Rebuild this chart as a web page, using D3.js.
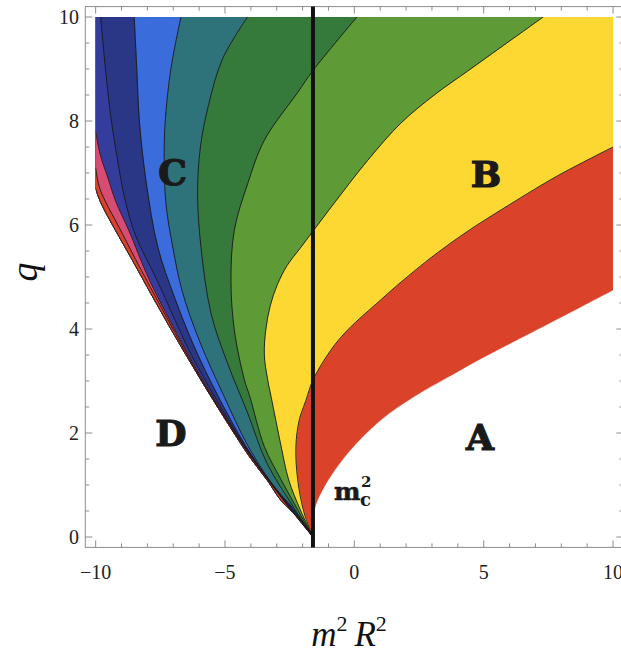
<!DOCTYPE html>
<html>
<head>
<meta charset="utf-8">
<script src="https://cdn.jsdelivr.net/npm/d3@7"></script>
<style>
  body { margin: 0; background: #fff; }
  svg { display: block; }
</style>
</head>
<body>
<svg id="chart" width="621" height="655"></svg>
<script>
// Contour boundaries, [m^2 R^2, q], from the vertex out to the plot edge.
// bound0 = edge of region A, bound10 = edge of region D.
const bound0 = [[-1.6,0],[-1.56,0.5],[-1.16,0.97],[-0.26,1.61],[1.02,2.25],[2.31,2.70],[3.60,3.07],[4.89,3.43],[7.50,4.10],[10,4.75]];
const bound1 = [[-1.6,0],[-1.94,0.46],[-2.19,1.10],[-2.26,1.74],[-2.13,2.25],[-1.87,2.63],[-1.6,3.02],[-0.90,3.6],[-0.26,3.98],[1.02,4.56],[1.80,4.90],[3.09,5.42],[4.38,5.88],[5.67,6.29],[7.80,6.93],[10,7.5]];
const bound2 = [[-1.6,0],[-2.07,0.5],[-2.54,1.1],[-2.83,1.74],[-3.22,2.7],[-3.35,3.02],[-3.48,3.5],[-3.42,4.0],[-3.25,4.45],[-2.98,4.85],[-2.6,5.22],[-2.1,5.55],[-1.6,5.88],[-0.78,6.42],[0.51,7.24],[1.80,7.96],[3.09,8.50],[4.38,8.96],[5.67,9.42],[7.30,10]];
const bound3 = [[-1.6,0],[-2.22,0.55],[-2.83,1.10],[-3.48,1.74],[-4.04,2.7],[-4.25,3.02],[-4.64,3.98],[-4.77,4.94],[-4.64,5.9],[-4.12,6.8],[-3.48,7.63],[-2.19,8.55],[-1.6,8.97],[0.10,10]];
const bound4 = [[-1.6,0],[-2.32,0.55],[-3.38,1.42],[-4.12,2.38],[-4.90,3.34],[-5.54,4.30],[-5.93,5.58],[-6.06,6.6],[-5.95,7.5],[-5.64,8.3],[-5.09,9.2],[-4.13,10]];
const bound5 = [[-1.6,0],[-2.37,0.55],[-3.11,0.98],[-4.12,1.76],[-5.03,2.70],[-5.97,3.75],[-6.65,4.72],[-7.02,5.58],[-7.28,6.4],[-7.35,7.2],[-7.31,8.0],[-7.08,9.04],[-6.70,10]];
const bound6 = [[-1.6,0],[-2.41,0.55],[-3.20,1.02],[-4.21,1.76],[-5.28,2.72],[-6.19,3.66],[-6.96,4.62],[-7.60,5.58],[-8.06,6.87],[-8.31,8.0],[-8.41,9.0],[-8.51,10]];
const bound7 = [[-1.6,0],[-2.45,0.55],[-3.22,1.04],[-4.25,1.76],[-5.77,3.02],[-6.40,3.6],[-7.63,4.94],[-8.46,5.8],[-8.87,6.5],[-9.17,7.3],[-9.42,8.1],[-9.62,9.0],[-9.81,10]];
const bound8 = [[-1.6,0],[-2.48,0.55],[-3.25,1.05],[-4.28,1.76],[-5.86,3.02],[-6.52,3.6],[-7.92,4.94],[-8.72,5.9],[-9.22,6.45],[-9.52,6.9],[-9.82,7.35],[-10,7.8]];
const bound9 = [[-1.6,0],[-2.50,0.55],[-3.28,1.06],[-4.30,1.76],[-5.90,3.02],[-6.57,3.6],[-8.03,4.94],[-8.52,5.4],[-9.12,5.98],[-9.62,6.45],[-9.87,6.75],[-10,7.1]];
const bound10 = [[-1.6,0],[-2.07,0.33],[-2.83,0.7],[-3.35,1.08],[-3.99,1.50],[-4.64,1.99],[-5.93,3.02],[-7.22,4.11],[-8.51,5.26],[-9.79,6.42],[-10,6.7]];

const boundaries = [bound0, bound1, bound2, bound3, bound4, bound5, bound6, bound7, bound8, bound9, bound10];
// one colour per band, band k lies between boundary k and k+1
const bandColors = ["#da432a", "#fdd732", "#5e9b36", "#367a3b", "#2f737a", "#3b6cdb", "#2a3686", "#343d9c", "#d64c74", "#da432a"];

const mcSquared = -1.6;
const xMajor = [-10, -5, 0, 5, 10];
const xTickLabels = ["\u221210", "\u22125", "0", "5", "10"];
const yMajor = [0, 2, 4, 6, 8, 10];
const yTickLabels = ["0", "2", "4", "6", "8", "10"];

const svg = d3.select("#chart");
const x = d3.scaleLinear().domain([-10.4, 10.4]).range([85.3, 623.4]);
const y = d3.scaleLinear().domain([-0.2, 10.2]).range([547.4, 6.6]);

svg.append("defs").append("clipPath").attr("id", "plotClip")
    .append("rect")
    .attr("x", x(-10)).attr("y", y(10))
    .attr("width", x(10) - x(-10)).attr("height", y(0) - y(10));

const line = d3.line()
    .x(d => x(d[0]))
    .y(d => y(d[1]))
    .curve(d3.curveCatmullRom.alpha(0.5));

// position of an end point along the plot edge, going right side up, top leftwards, left side down
function edgePos(p) {
    if (p[0] >= 9.99) return p[1];
    if (p[1] >= 9.99) return 10 + (10 - p[0]);
    return 30 + (10 - p[1]);
}
const corners = [[10, 10], [-10, 10]];

// painter's order: band k fills everything from boundary k round to boundary 10
const plot = svg.append("g").attr("clip-path", "url(#plotClip)");
const outer = bound10.slice().reverse();
const outerPath = "L" + line(outer).slice(1);

boundaries.slice(0, 10).forEach((b, k) => {
    const t0 = edgePos(b[b.length - 1]);
    let d = line(b);
    corners.forEach(c => {
        if (edgePos(c) > t0) d += "L" + x(c[0]) + "," + y(c[1]);
    });
    d += outerPath + "Z";
    plot.append("path")
        .attr("d", d)
        .attr("fill", bandColors[k])
        .attr("stroke", bandColors[k])
        .attr("stroke-width", 0.5);
});

// contour lines
plot.selectAll(".contour")
    .data(boundaries.slice(1))
    .enter().append("path")
    .attr("class", "contour")
    .attr("d", line)
    .attr("fill", "none")
    .attr("stroke", "#1a1a1a")
    .attr("stroke-width", 0.9);

// frame
const frame = svg.append("g");
frame.append("rect")
    .attr("x", x(-10.4)).attr("y", y(10.2))
    .attr("width", x(10.4) - x(-10.4)).attr("height", y(-0.2) - y(10.2))
    .attr("fill", "none").attr("stroke", "#8c8c8c").attr("stroke-width", 1);

const xMinor = d3.range(-10, 11, 1).filter(v => !xMajor.includes(v));
const yMinor = d3.range(0, 10.01, 0.5).filter(v => !yMajor.includes(v));
const tickColor = "#8c8c8c";

function xTicks(vals, len) {
    vals.forEach(v => {
        frame.append("line").attr("x1", x(v)).attr("x2", x(v))
            .attr("y1", y(-0.2)).attr("y2", y(-0.2) - len)
            .attr("stroke", tickColor);
        frame.append("line").attr("x1", x(v)).attr("x2", x(v))
            .attr("y1", y(10.2)).attr("y2", y(10.2) + len)
            .attr("stroke", tickColor);
    });
}
function yTicks(vals, len) {
    vals.forEach(v => {
        frame.append("line").attr("x1", x(-10.4)).attr("x2", x(-10.4) + len)
            .attr("y1", y(v)).attr("y2", y(v))
            .attr("stroke", tickColor);
        frame.append("line").attr("x1", x(10.4)).attr("x2", x(10.4) - len)
            .attr("y1", y(v)).attr("y2", y(v))
            .attr("stroke", tickColor);
    });
}
xTicks(xMajor, 7); xTicks(xMinor, 4);
yTicks(yMajor, 7); yTicks(yMinor, 4);

const serif = "'Liberation Serif', 'DejaVu Serif', serif";
frame.selectAll(".xlab").data(xMajor).enter().append("text")
    .attr("x", d => x(d)).attr("y", 579)
    .attr("text-anchor", "middle")
    .attr("font-family", serif).attr("font-size", 20).attr("fill", "#222")
    .text((d, i) => xTickLabels[i]);
frame.selectAll(".ylab").data(yMajor).enter().append("text")
    .attr("x", 79).attr("y", d => y(d) + 7)
    .attr("text-anchor", "end")
    .attr("font-family", serif).attr("font-size", 20).attr("fill", "#222")
    .text((d, i) => yTickLabels[i]);

// axis titles
svg.append("text")
    .attr("transform", "translate(37,272) rotate(-90)")
    .attr("text-anchor", "middle")
    .attr("font-family", serif).attr("font-style", "italic")
    .attr("font-size", 38).attr("fill", "#111")
    .text("q");

const xTitle = svg.append("text")
    .attr("x", 349).attr("y", 646)
    .attr("text-anchor", "middle")
    .attr("font-family", serif).attr("font-style", "italic")
    .attr("font-size", 35).attr("fill", "#111");
xTitle.append("tspan").text("m");
xTitle.append("tspan").attr("dy", -15).attr("font-size", 22).attr("font-style", "normal").text("2");
xTitle.append("tspan").attr("dy", 15).text("\u2009R");
xTitle.append("tspan").attr("dy", -15).attr("font-size", 22).attr("font-style", "normal").text("2");

// critical mass line
svg.append("line")
    .attr("x1", x(mcSquared)).attr("x2", x(mcSquared))
    .attr("y1", y(10.2)).attr("y2", y(-0.2))
    .attr("stroke", "#111").attr("stroke-width", 4);

// region labels
const slab = "'DejaVu Serif', serif";
[["A", 4.86, 1.92], ["B", 5.09, 6.98], ["C", -7.03, 7.02], ["D", -7.09, 2.0]].forEach(r => {
    svg.append("text")
        .attr("x", x(r[1])).attr("y", y(r[2]))
        .attr("dy", "0.36em")
        .attr("text-anchor", "middle")
        .attr("font-family", slab).attr("font-weight", "bold")
        .attr("font-size", 36).attr("fill", "#1a1a1a")
        .attr("stroke", "#1a1a1a").attr("stroke-width", 1.2)
        .text(r[0]);
});

// m_c^2 label: base, superscript and subscript stacked
const mx = x(-0.79), my = y(0.71);
const mc = svg.append("g")
    .attr("font-family", slab).attr("font-weight", "bold").attr("fill", "#1a1a1a");
mc.append("text").attr("x", mx).attr("y", my)
    .attr("font-size", 25)
    .attr("stroke", "#1a1a1a").attr("stroke-width", 0.6).text("m");
mc.append("text").attr("x", mx + 27).attr("y", my - 13)
    .attr("font-size", 15).text("2");
mc.append("text").attr("x", mx + 26).attr("y", my + 6)
    .attr("font-size", 18).text("c");
</script>
</body>
</html>
